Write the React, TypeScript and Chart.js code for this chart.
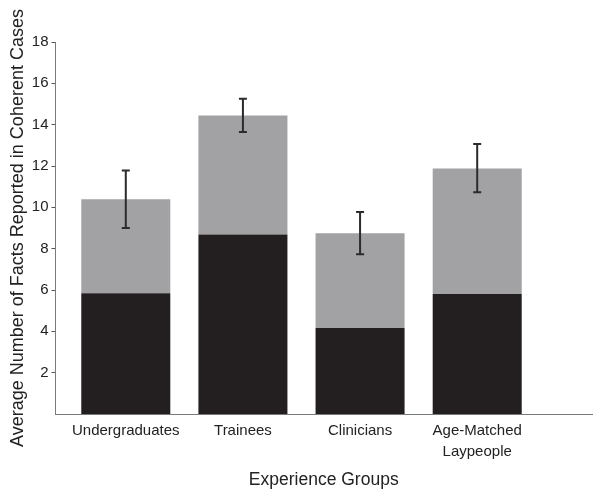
import React, { useEffect, useRef } from "react";
import { Chart, registerables } from "chart.js";

Chart.register(...registerables);

const groups: (string | string[])[] = ["Undergraduates", "Trainees", "Clinicians", ["Age-Matched", "Laypeople"]];
const lowerPart = [5.84, 8.68, 4.16, 5.81];
const upperPart = [4.55, 5.76, 4.59, 6.07];
const errLow = [9.0, 13.65, 7.73, 10.73];
const errHigh = [11.78, 15.25, 9.77, 13.07];
const yTicks = [2, 4, 6, 8, 10, 12, 14, 16, 18];

const FONT = "'Liberation Sans', Arial, Helvetica, sans-serif";

const errorBarPlugin = {
  id: "errorBars",
  afterDatasetsDraw(chart: any) {
    const { ctx } = chart;
    const xs = chart.scales.x;
    const ys = chart.scales.y;
    ctx.save();
    ctx.strokeStyle = "#2b2b2b";
    ctx.lineWidth = 2;
    for (let i = 0; i < errLow.length; i++) {
      const x = xs.getPixelForValue(i + 1);
      const y1 = ys.getPixelForValue(errLow[i]);
      const y2 = ys.getPixelForValue(errHigh[i]);
      ctx.beginPath();
      ctx.moveTo(x, y1);
      ctx.lineTo(x, y2);
      ctx.moveTo(x - 4, y1);
      ctx.lineTo(x + 4, y1);
      ctx.moveTo(x - 4, y2);
      ctx.lineTo(x + 4, y2);
      ctx.stroke();
    }
    ctx.restore();
  },
};

export default function App() {
  const ref = useRef<HTMLCanvasElement | null>(null);
  useEffect(() => {
    if (!ref.current) return;
    const chart = new Chart(ref.current, {
      type: "bar",
      data: {
        datasets: [
          {
            label: "lower",
            data: lowerPart.map((v, i) => ({ x: i + 1, y: v })),
            backgroundColor: "#231f20",
            barPercentage: 0.76,
            categoryPercentage: 1,
          },
          {
            label: "upper",
            data: upperPart.map((v, i) => ({ x: i + 1, y: v })),
            backgroundColor: "#a2a2a5",
            barPercentage: 0.76,
            categoryPercentage: 1,
          },
        ],
      },
      options: {
        responsive: false,
        animation: false,
        layout: { padding: { top: 42, right: 8, left: 0, bottom: 0 } },
        plugins: { legend: { display: false }, tooltip: { enabled: false } },
        scales: {
          x: {
            type: "linear",
            stacked: true,
            offset: false,
            min: 0.4,
            max: 4.98,
            afterBuildTicks: (scale: any) => {
              scale.ticks = groups.map((_, i) => ({ value: i + 1 }));
            },
            afterFit: (scale: any) => {
              scale.height = 82;
            },
            grid: { display: true, offset: false, drawOnChartArea: false, drawTicks: false },
            border: { display: true, color: "#7a7a7a", width: 1 },
            ticks: {
              color: "#222",
              font: { family: FONT, size: 15, lineHeight: 1.35 },
              padding: 7,
              maxRotation: 0,
              autoSkip: false,
              callback: (v: any) => groups[Number(v) - 1] ?? "",
            },
            title: {
              display: true,
              text: "Experience Groups",
              color: "#222",
              font: { family: FONT, size: 17.5 },
              padding: { top: 4, bottom: 5 },
            },
          },
          y: {
            stacked: true,
            min: 0,
            max: 18,
            afterBuildTicks: (scale: any) => {
              scale.ticks = yTicks.map((v) => ({ value: v }));
            },
            afterFit: (scale: any) => {
              scale.width = 55.5;
            },
            grid: { display: true, drawOnChartArea: false, drawTicks: true, tickLength: 4, color: "#555" },
            border: { display: true, color: "#7a7a7a", width: 1 },
            ticks: {
              color: "#222",
              font: { family: FONT, size: 15 },
              padding: 3,
            },
            title: {
              display: true,
              text: "Average Number of Facts Reported in Coherent Cases",
              color: "#222",
              font: { family: FONT, size: 18 },
              padding: { top: 7, bottom: 2 },
            },
          },
        },
      },
      plugins: [errorBarPlugin],
    });
    return () => chart.destroy();
  }, []);
  return (
    <div style={{ position: "fixed", left: 0, top: 0, width: 600, height: 496, background: "#fff" }}>
      <canvas ref={ref} width={600} height={496} />
    </div>
  );
}
